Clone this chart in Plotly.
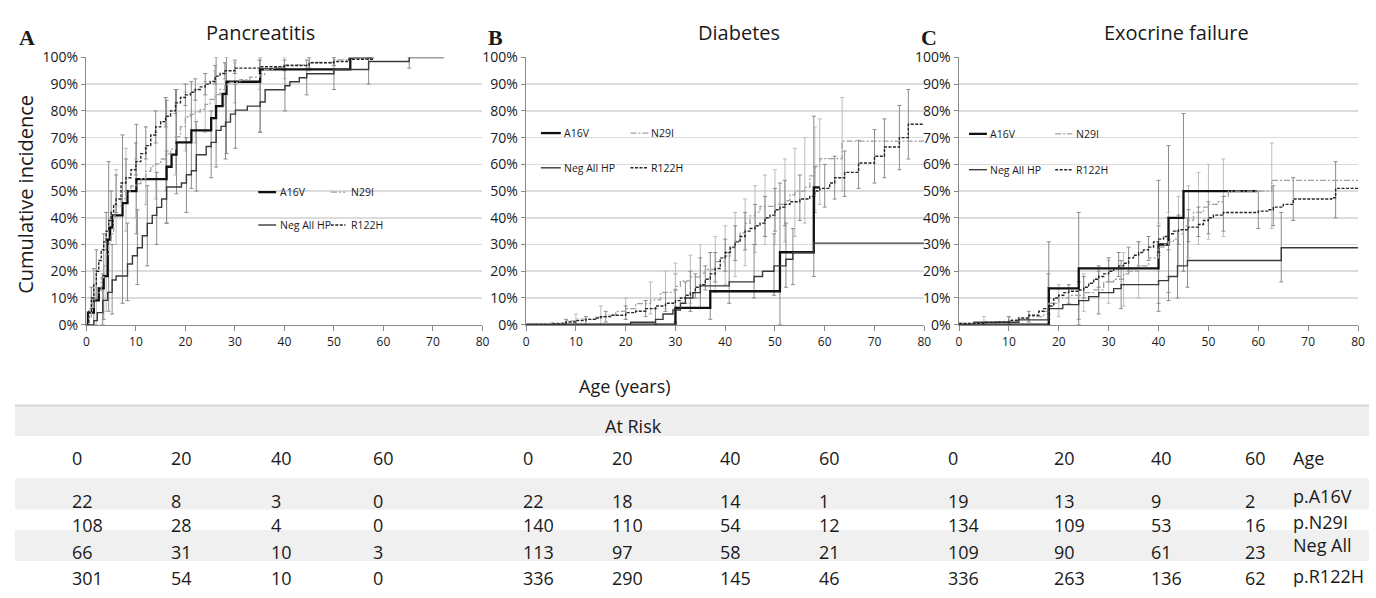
import plotly.graph_objects as go

# ---------------- data (age in years, cumulative incidence %) ----------------
SERIES = ["A16V", "N29I", "Neg All HP", "R122H"]

PANC_A16V = [(0,0),(0.3,4.5),(1.5,9.1),(2.5,13.6),(3.5,18.2),(4.3,31.8),(4.8,36.4),(5.3,40.9),(7.3,45.5),
             (8.3,50),(10.1,54.5),(16.2,59.1),(17.2,63.6),(18.2,68.2),(21.2,72.7),(25.2,77.3),(26.2,81.8),
             (27.5,86.4),(28.3,90.9),(35.1,95.5),(53.3,100),(58,100)]
PANC_N29I = [(0,0),(0.5,2.8),(1,6.5),(1.5,9.3),(2,12),(3,17.6),(3.5,22),(4,25.9),(4.5,30.6),(5,34),(5.5,40.7),
             (6,44.4),(7,47.2),(8,50),(9,51.9),(10,52.8),(11,54.6),(12,57.4),(13,59.3),(14,60.2),(15,62),
             (16,63.9),(17,65.7),(18,70.4),(19,74.1),(20,77.8),(21,78.7),(22,79.6),(23,80.6),(24,82.4),
             (25,84.3),(26,86.1),(27,88),(28,89.8),(29,90.7),(31,91.7),(33,92.6),(35,93.5),(36,95.4),
             (38,96.3),(40,97.2),(45,98.1),(50,99.1),(53,100),(58,100)]
PANC_NEG = [(0,0),(1.5,1.5),(2.2,4.5),(3.3,9.1),(4.3,12.1),(5.2,16.7),(6,18.2),(8.3,22.7),(9.3,25.8),(10.3,28.8),
            (11.3,33.3),(12.3,37.9),(13.3,40.9),(14.2,43.9),(15.2,47),(16.2,51.5),(19.2,53),(20.2,56.1),
            (21.2,57.6),(22.2,63.6),(24.2,66.7),(25.2,68.2),(26.2,72.7),(27.2,74.2),(28.1,75.8),(29.1,78.8),
            (30.1,80.3),(32.5,81.8),(35.1,83.3),(36.1,87.9),(40.1,89.4),(41.1,90.9),(43,92.4),(44.5,93.9),
            (50,95.5),(57,98.5),(65.2,100),(72.2,100)]
PANC_R122H = [(0,0),(0.5,5),(1,10),(1.5,15),(2,20),(2.5,24),(3,28),(3.5,31),(4,35),(4.5,39),(5,42),(5.5,45),
              (6,47),(7,53),(8,55),(9,58),(10,61),(11,64),(12,67),(13,71),(14,74),(15,76),(16,78),(17,80),
              (18,83),(19,85),(20,86),(21,87),(22,88),(23,89),(24,90),(25,91),(26,93),(27,94),(28,95),
              (30,96),(35,96.5),(40,97),(45,98),(50,98.5),(53,99.3),(58,99.3)]

DIAB_A16V = [(0,0),(30,6.3),(37,12.5),(51,27.1),(57.8,51.4),(59,51.4)]
DIAB_N29I = [(0,0),(5,0.7),(8,1.4),(10,2.1),(14,2.9),(16,3.6),(18,5),(20,6),(22,7.9),(25,9.3),(27,12.1),
             (30,14.3),(31,16.4),(33,17.9),(35,19.3),(36,20.7),(38,23.6),(40,25.7),(41,28.6),(42,31.4),
             (43,34.3),(44,37.9),(45,40.7),(46,42.1),(47,44.3),(50,45),(52,46.4),(53,48.6),(54,50),
             (56,51.4),(57,55.7),(58,59.3),(59,62.1),(63.5,68.7),(80,68.7)]
DIAB_NEG = [(0,0),(21,0.9),(26,2),(27.5,4),(29.5,5.5),(31,8),(32,10),(33.5,12),(35,14.5),(40.8,16),
            (45.8,18),(47.5,20),(49.8,22),(52.2,24.5),(53.6,27),(57.8,30.5),(80,30.5)]
DIAB_R122H = [(0,0),(5,0.3),(8,1),(10,1.5),(12,2),(14,2.5),(15,3),(17,3.5),(20,4.5),(22,5),(24,6),(26,7),
              (28,8),(30,9),(31,10),(32,11),(33,12),(34,14),(35,15),(36,17),(37,19),(38,21),(39,25),(40,27),
              (41,29),(42,31),(43,33),(44,35),(45,36),(46,37),(47,38),(48,40),(49,41),(50,43),(51,44),(52,45),
              (53,46),(55,47),(57,48),(58,50),(59,51),(61,53),(62,55),(64,57),(66.8,60.5),(70,63),(72,66.5),
              (75,70),(76.8,75),(80,75)]

EXO_A16V = [(0,0),(18,13.6),(24,21.1),(40,30),(42,40),(45,50),(59.7,50)]
EXO_N29I = [(0,0.5),(5,1),(10,2),(14,3),(17,5),(18,8),(20,10),(22,11),(25,12),(27,13),(29,16),(31,17),
            (33,19),(34,20),(36,22),(38,25),(40,29),(41,30),(42,31),(43,32),(44,34),(45,37),(46,39),
            (47,42),(49,44),(50,45),(52,46),(53,48),(54,50),(62.7,54),(80,54)]
EXO_NEG = [(0,0),(3,0.9),(12,1.8),(17.9,6),(20.8,7.5),(24,9),(26,10.5),(28,12),(31,13.5),(32.5,15),(40,16.5),
           (42,18),(43.8,22),(45.8,24),(64.6,28.8),(80,28.8)]
EXO_R122H = [(0,0.5),(5,0.8),(8,1),(10,1.5),(12,2.5),(14,3.5),(16,5),(17,6),(18,7),(19,10),(20,11),(21,12),
             (22,12.5),(24,13),(25,14),(26,15.5),(27,17),(28,18),(29,19),(30,20),(31,21),(32,22),(33,23),
             (34,25),(35,26),(36,27),(37,28),(38,29),(39,31),(40,32),(41,33),(42,34),(43,35),(44,35.5),
             (46,36.5),(48,37.5),(49,39),(50,40),(51,41),(53,42),(60,42.5),(62,43),(63,44),(65,45),(67,47),
             (74.7,47.5),(75.5,51),(80,51)]

# confidence intervals: (age, lower %, upper %)
PANC_A16V_CI = [(1.5,0,21),(3.5,2,34),(4.5,5,61),(7.3,8,71),(10.1,34,75),(16.2,38,84),(18.2,49,88),
                (21.2,51,91),(26.2,59,100),(28.3,64,100),(35.1,72,100)]
PANC_N29I_CI = [(2,0,14),(4,5,28),(6,30,58),(8,35,66),(10,40,62),(12,45,66),(14,47,72),(16,50,75),(18,56,80),
                (20,65,87),(22,68,88),(24,72,91),(26,77,95),(28,82,98),(30,83,98),(35,88,99),(40,92,100),
                (45,95,100),(50,97,100)]
PANC_NEG_CI = [(3.3,0,19),(5.2,4,30),(8.3,9,38),(10.3,15,43),(12.3,22,52),(14.2,30,57),(16.2,38,65),
               (20.2,42,70),(22.2,50,76),(25.2,55,80),(28.1,62,86),(30.1,66,90),(35.1,72,94),(40.1,80,97),
               (44.5,86,99),(50,88,100),(57,90,100),(65.2,96,100)]
PANC_R122H_CI = [(1,6,14),(2,10,28),(4,28,42),(5,36,50),(6,42,56),(8,50,62),(10,56,68),(12,62,74),(14,68,80),
                 (16,74,85),(18,79,88),(20,82,90),(22,84,92),(24,86,94),(26,90,97),(28,92,98),(30,94,99),
                 (35,95,99),(40,95,99),(45,96,100),(50,97,100)]

DIAB_A16V_CI = [(30,0,19),(37,2,27),(51,0,53),(57.8,18,78)]
DIAB_N29I_CI = [(10,0,4),(15,0,7),(20,2,10),(25,4,16),(28,6,20),(30,7,23),(33,8,26),(35,10,30),(38,12,33),
                (40,15,37),(42,18,42),(44,22,47),(46,27,52),(48,30,56),(50,30,58),(52,31,62),(54,33,66),
                (56,38,70),(58,43,74),(59,45,77),(63.5,50,85)]
DIAB_NEG_CI = [(26,0,6),(30,1,13),(33,5,20),(35,6,25),(40.8,8,27),(45.8,10,30),(49.8,11,34),(52.2,14,38),
               (53.6,15,36)]
DIAB_R122H_CI = [(8,0,2),(12,0,3),(16,1,5),(20,2,7),(24,3,9),(28,5,12),(30,6,13),(32,8,16),(34,10,19),
                 (36,13,22),(38,16,27),(40,20,32),(42,24,37),(44,28,42),(46,30,45),(48,33,48),(50,35,51),
                 (52,37,54),(55,39,56),(58,42,59),(60,44,60),(62,47,63),(64,48,65),(66.8,51,69),(70,53,73),
                 (72,55,77),(75,58,82),(76.8,62,88)]

EXO_A16V_CI = [(18,0,31),(24,0,42),(40,5,54),(42,12,67),(45,20,79)]
EXO_N29I_CI = [(5,0,3),(10,0,3),(18,2,14),(20,3,15),(25,5,19),(30,8,24),(33,7,27),(36,10,31),(40,20,38),
               (42,18,42),(44,22,48),(46,25,52),(48,30,57),(50,32,60),(53,33,62),(62.7,36,68)]
EXO_NEG_CI = [(17.9,0,19),(24,2,16),(28,4,20),(32.5,6,24),(40,8,27),(42,9,32),(43.8,10,35),(45.8,14,40),
              (64.6,16,42)]
EXO_R122H_CI = [(10,0,3),(14,1,5),(18,4,10),(22,8,15),(25,10,18),(28,14,22),(30,16,25),(32,18,27),(34,20,29),
                (36,22,31),(38,24,33),(40,26,37),(42,28,40),(44,30,41),(46,31,43),(48,33,44),(50,34,46),
                (53,35,48),(60,36,50),(63,37,52),(67,39,55),(75.5,40,61)]

PANEL_TITLES = ["Pancreatitis", "Diabetes", "Exocrine failure"]
PANEL_LETTERS = ["A", "B", "C"]
X_TICKS = [0, 10, 20, 30, 40, 50, 60, 70, 80]
Y_TICKS = [0, 10, 20, 30, 40, 50, 60, 70, 80, 90, 100]
Y_TICK_TEXT = ["0%", "10%", "20%", "30%", "40%", "50%", "60%", "70%", "80%", "90%", "100%"]

# at-risk table
RISK_AGES = [0, 20, 40, 60]
RISK_ROW_LABELS = ["p.A16V", "p.N29I", "Neg All", "p.R122H"]
RISK_PANC = [[22, 8, 3, 0], [108, 28, 4, 0], [66, 31, 10, 3], [301, 54, 10, 0]]
RISK_DIAB = [[22, 18, 14, 1], [140, 110, 54, 12], [113, 97, 58, 21], [336, 290, 145, 46]]
RISK_EXO = [[19, 13, 9, 2], [134, 109, 53, 16], [109, 90, 61, 23], [336, 263, 136, 62]]

# ---------------- styling ----------------
W, H = 1376, 598
FONT = "Open Sans"
TXT = "#1a1a1a"
STYLE = {
    "A16V": dict(color="#111111", width=2.3, dash="solid"),
    "N29I": dict(color="#a0a0a0", width=1.3, dash="6px,2px,2px,2px"),
    "Neg All HP": dict(color="#3a3a3a", width=1.4, dash="solid"),
    "R122H": dict(color="#262626", width=1.4, dash="3px,1.5px"),
}
ERR_COLOR = {"A16V": "#8c8c8c", "N29I": "#bdbdbd", "Neg All HP": "#8c8c8c", "R122H": "#8c8c8c"}

def px(x):
    return x / W

def py(y):
    return 1 - y / H

X_DOM = [(84, 483), (527, 928), (963, 1365)]
Y_DOM = [py(325), py(49)]

panels = [
    (PANC_A16V, PANC_N29I, PANC_NEG, PANC_R122H, PANC_A16V_CI, PANC_N29I_CI, PANC_NEG_CI, PANC_R122H_CI),
    (DIAB_A16V, DIAB_N29I, DIAB_NEG, DIAB_R122H, DIAB_A16V_CI, DIAB_N29I_CI, DIAB_NEG_CI, DIAB_R122H_CI),
    (EXO_A16V, EXO_N29I, EXO_NEG, EXO_R122H, EXO_A16V_CI, EXO_N29I_CI, EXO_NEG_CI, EXO_R122H_CI),
]

fig = go.Figure()

for i, pdata in enumerate(panels):
    xa = "x" if i == 0 else f"x{i+1}"
    ya = "y" if i == 0 else f"y{i+1}"
    curves = pdata[:4]
    cis = pdata[4:]
    for name, ci in zip(SERIES, cis):
        fig.add_trace(go.Scatter(
            x=[c[0] for c in ci], y=[(c[1] + c[2]) / 2 for c in ci], mode="markers",
            marker=dict(size=1, color="rgba(0,0,0,0)"),
            error_y=dict(type="data", symmetric=True, array=[(c[2] - c[1]) / 2 for c in ci],
                         color=ERR_COLOR[name], thickness=1, width=2),
            xaxis=xa, yaxis=ya, showlegend=False, hoverinfo="skip"))
    for name, cur in zip(SERIES, curves):
        st = STYLE[name]
        fig.add_trace(go.Scatter(
            x=[c[0] for c in cur], y=[c[1] for c in cur], mode="lines", name=name,
            line=dict(shape="hv", color=st["color"], width=st["width"], dash=st["dash"]),
            xaxis=xa, yaxis=ya, showlegend=False))

layout = dict(
    width=W, height=H, margin=dict(l=0, r=0, t=0, b=0),
    paper_bgcolor="white", plot_bgcolor="white",
    font=dict(family=FONT, color=TXT), showlegend=False,
)
for i in range(3):
    xk = "xaxis" if i == 0 else f"xaxis{i+1}"
    yk = "yaxis" if i == 0 else f"yaxis{i+1}"
    anchor_x = "x" if i == 0 else f"x{i+1}"
    anchor_y = "y" if i == 0 else f"y{i+1}"
    layout[xk] = dict(domain=[px(X_DOM[i][0]), px(X_DOM[i][1])], anchor=anchor_y, range=[0, 80],
                      tickmode="array", tickvals=X_TICKS, ticktext=[str(v) for v in X_TICKS],
                      showgrid=False, zeroline=False, showline=True,
                      linecolor="#8a8a8a", linewidth=1.5, ticks="outside", ticklen=5, tickcolor="#8a8a8a",
                      tickfont=dict(size=12, family=FONT, color=TXT))
    layout[yk] = dict(domain=Y_DOM, anchor=anchor_x, range=[0, 100],
                      tickmode="array", tickvals=Y_TICKS, ticktext=Y_TICK_TEXT,
                      showgrid=True, gridcolor="#dcdcdc", gridwidth=1.5, zeroline=False, showline=True,
                      linecolor="#8a8a8a", linewidth=1.5, ticks="outside", ticklen=4, tickcolor="#8a8a8a",
                      tickfont=dict(size=14, family=FONT, color=TXT))

ann = []
shapes = []

for t, cx in zip(PANEL_TITLES, [259, 741, 1182]):
    ann.append(dict(text=t, x=px(cx), y=py(23), xref="paper", yref="paper", showarrow=False,
                    xanchor="center", yanchor="middle", font=dict(size=20, family=FONT, color=TXT)))
for L, cx in zip(PANEL_LETTERS, [24, 496, 933]):
    ann.append(dict(text=f"<b>{L}</b>", x=px(cx), y=py(28), xref="paper", yref="paper", showarrow=False,
                    xanchor="center", yanchor="middle",
                    font=dict(size=22, family="Liberation Serif", color=TXT)))
ann.append(dict(text="Cumulative incidence", x=px(23), y=py(190), xref="paper", yref="paper",
                showarrow=False, textangle=-90, xanchor="center", yanchor="middle",
                font=dict(size=20, family=FONT, color=TXT)))
ann.append(dict(text="Age (years)", x=px(627), y=py(388), xref="paper", yref="paper", showarrow=False,
                xanchor="center", yanchor="middle", font=dict(size=18, family=FONT, color=TXT)))

LEG = [
    dict(c1=(0.434, 0.479, 0.484), c2=(0.617, 0.654, 0.662), r1=0.496, r2=0.373),
    dict(c1=(0.037, 0.087, 0.090), c2=(0.262, 0.307, 0.309), r1=0.717, r2=0.587),
    dict(c1=(0.025, 0.070, 0.072), c2=(0.241, 0.284, 0.289), r1=0.714, r2=0.580),
]
LEG_ORDER = [("A16V", "c1", "r1"), ("N29I", "c2", "r1"), ("Neg All HP", "c1", "r2"), ("R122H", "c2", "r2")]
for i, lg in enumerate(LEG):
    xr = "x domain" if i == 0 else f"x{i+1} domain"
    yr = "y domain" if i == 0 else f"y{i+1} domain"
    for name, ck, rk in LEG_ORDER:
        x0, x1, xt = lg[ck]
        yv = lg[rk]
        st = STYLE[name]
        shapes.append(dict(type="line", xref=xr, yref=yr, x0=x0, x1=x1, y0=yv, y1=yv,
                           line=dict(color=st["color"], width=st["width"], dash=st["dash"])))
        ann.append(dict(text=name, x=xt, y=yv, xref=xr, yref=yr, showarrow=False, xanchor="left",
                        yanchor="middle", font=dict(size=10.5, family=FONT, color=TXT)))

shapes.append(dict(type="rect", xref="paper", yref="paper", x0=px(12), x1=1, y0=py(440), y1=py(408),
                   fillcolor="#efefef", line=dict(width=0), layer="below"))
shapes.append(dict(type="line", xref="paper", yref="paper", x0=px(12), x1=1, y0=py(408.5), y1=py(408.5),
                   line=dict(color="#d6d6d6", width=2)))
for top, bot in [(484, 516), (537, 569)]:
    shapes.append(dict(type="rect", xref="paper", yref="paper", x0=px(12), x1=1, y0=py(bot), y1=py(top),
                       fillcolor="#f0f0f0", line=dict(width=0), layer="below"))
ann.append(dict(text="At Risk", x=px(635), y=py(430), xref="paper", yref="paper", showarrow=False,
                xanchor="center", yanchor="middle", font=dict(size=18, family=FONT, color=TXT)))

COLS = [[67, 167, 268, 371], [522, 611, 720, 820], [950, 1057, 1154, 1249]]
ROW_Y = [507, 532, 560, 587]
for cols, table in zip(COLS, [RISK_PANC, RISK_DIAB, RISK_EXO]):
    for cx, age in zip(cols, RISK_AGES):
        ann.append(dict(text=str(age), x=px(cx), y=py(463), xref="paper", yref="paper", showarrow=False,
                        xanchor="left", yanchor="middle", font=dict(size=18, family=FONT, color=TXT)))
    for ry, row in zip(ROW_Y, table):
        for cx, v in zip(cols, row):
            ann.append(dict(text=str(v), x=px(cx), y=py(ry), xref="paper", yref="paper", showarrow=False,
                            xanchor="left", yanchor="middle", font=dict(size=18, family=FONT, color=TXT)))
ann.append(dict(text="Age", x=px(1297), y=py(463), xref="paper", yref="paper", showarrow=False,
                xanchor="left", yanchor="middle", font=dict(size=18, family=FONT, color=TXT)))
for ly, lab in zip([502, 529, 553, 585], RISK_ROW_LABELS):
    ann.append(dict(text=lab, x=px(1297), y=py(ly), xref="paper", yref="paper", showarrow=False,
                    xanchor="left", yanchor="middle", font=dict(size=18, family=FONT, color=TXT)))

layout["annotations"] = ann
layout["shapes"] = shapes
fig.update_layout(**layout)
fig.write_html("out.html", config={"displayModeBar": False, "staticPlot": True},
               post_script="document.body.style.margin='0';document.body.style.overflow='hidden';")
